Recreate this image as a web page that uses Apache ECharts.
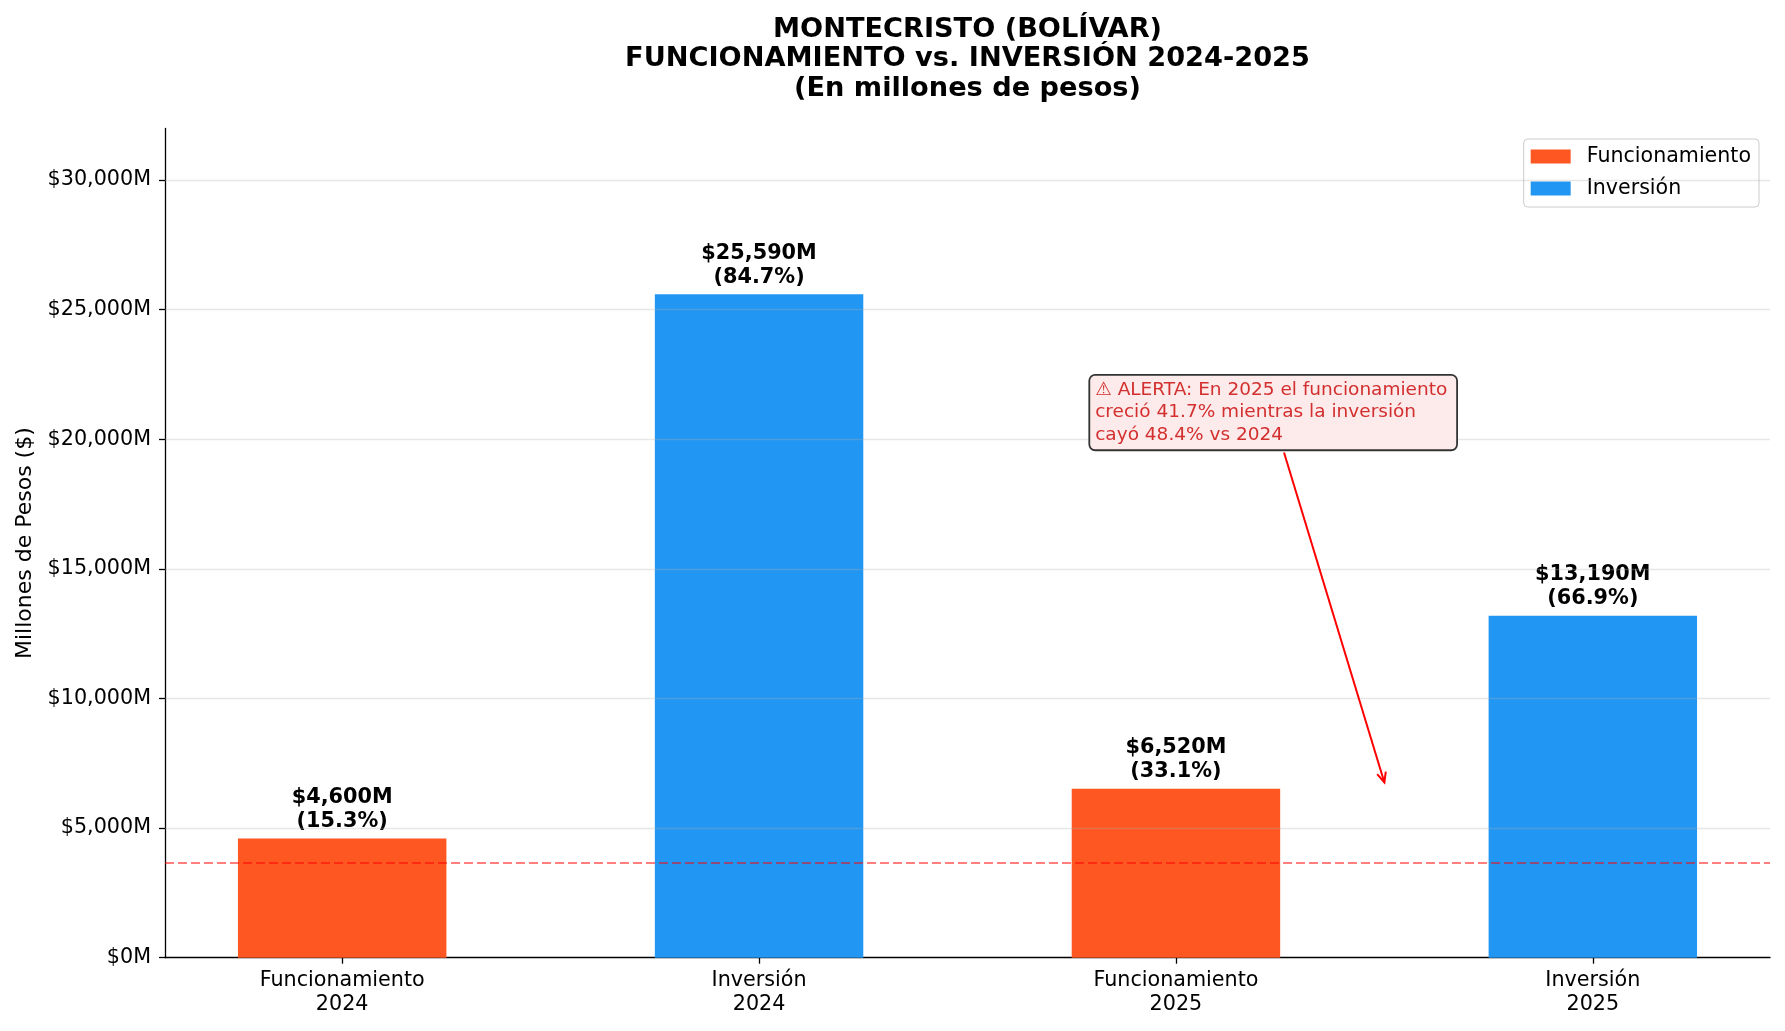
<!DOCTYPE html>
<html>
<head>
<meta charset="utf-8">
<script src="https://cdn.jsdelivr.net/npm/echarts@6/dist/echarts.min.js"></script>
<style>html,body{margin:0;padding:0;background:#fff}#c{width:1785px;height:1031px}</style>
</head>
<body>
<div id="c"></div>
<script>
// ---- data ----
const categories = ['Funcionamiento\n2024', 'Inversión\n2024', 'Funcionamiento\n2025', 'Inversión\n2025'];
const seriesNames = ['Funcionamiento', 'Inversión'];
const values = [4600, 25590, 6520, 13190];
const seriesOf = [0, 1, 0, 1];
const pctLabels = ['15.3%', '84.7%', '33.1%', '66.9%'];
const yTicks = [0, 5000, 10000, 15000, 20000, 25000, 30000];
const yMax = 31987.5;
const xRange = [-0.425, 3.425];
const barWidthUnits = 0.5;
const thresholdValue = 3680;
const alertText = '⚠ ALERTA: En 2025 el funcionamiento\ncreció 41.7% mientras la inversión\ncayó 48.4% vs 2024';
const alertBoxCorner = [1.79, 19660];   // lower-left corner of box (data units)
const arrowTarget = [2.5, 6760];
const titleText = 'MONTECRISTO (BOLÍVAR)\nFUNCIONAMIENTO vs. INVERSIÓN 2024-2025\n(En millones de pesos)';
const colors = ['#FF5722', '#2196F3'];

const FONT = 'DejaVu Sans';
const fmt = v => '$' + Number(v).toLocaleString('en-US') + 'M';

const L = 165, R = 1785 - 1770, T = 128.5, B = 1031 - 957.7;
const plotW = 1785 - L - R;
const unit = plotW / (xRange[1] - xRange[0]);
const gridBLeft = L + (0 - xRange[0]) * unit;
const gridBWidth = (categories.length - 1) * unit;

const chart = echarts.init(document.getElementById('c'), null, {renderer: 'canvas'});

const barSeries = seriesNames.map((name, s) => ({
  name, type: 'bar', xAxisIndex: 0, yAxisIndex: 0,
  barWidth: barWidthUnits * unit, barGap: '-100%', z: 3,
  itemStyle: {color: colors[s]},
  data: values.map((v, i) => seriesOf[i] === s ? [i, v] : null).filter(d => d),
  label: {
    show: true, position: 'top', distance: 5,
    fontFamily: FONT, fontWeight: 'bold', fontSize: 20.8, lineHeight: 24, color: '#000',
    formatter: p => fmt(p.value[1]) + '\n(' + pctLabels[p.value[0]] + ')'
  }
}));

chart.setOption({
  animation: false,
  backgroundColor: '#fff',
  title: {
    text: titleText, left: L + plotW / 2, top: 15, textAlign: 'center', padding: 0,
    textStyle: {fontFamily: FONT, fontWeight: 'bold', fontSize: 27.2, lineHeight: 29.5, color: '#000'}
  },
  legend: {
    data: seriesNames, orient: 'vertical', right: 26, top: 139,
    icon: 'rect', itemWidth: 40, itemHeight: 14, itemGap: 11,
    padding: [7, 8, 8, 7], borderColor: '#cccccc', borderWidth: 1, borderRadius: 4,
    backgroundColor: 'rgba(255,255,255,0.8)',
    textStyle: {fontFamily: FONT, fontSize: 20.6, lineHeight: 20, color: '#000', padding: [0, 0, 0, 11]}
  },
  grid: [
    {left: L, right: R, top: T, bottom: B},
    {left: gridBLeft, width: gridBWidth, top: T, bottom: B}
  ],
  xAxis: [
    {gridIndex: 0, type: 'value', min: xRange[0], max: xRange[1],
     axisLine: {show: true, onZero: false, lineStyle: {color: '#000', width: 1.3}},
     axisTick: {show: false}, axisLabel: {show: false}, splitLine: {show: false}},
    {gridIndex: 1, type: 'category', data: categories, boundaryGap: false,
     axisLine: {show: false},
     axisTick: {show: true, length: 6, lineStyle: {color: '#000', width: 1.3}},
     axisLabel: {fontFamily: FONT, fontSize: 20.7, lineHeight: 24, color: '#000', margin: 11},
     splitLine: {show: false}}
  ],
  yAxis: [
    {gridIndex: 0, type: 'value', min: 0, max: yMax, interval: 5000,
     name: 'Millones de Pesos ($)', nameLocation: 'middle', nameGap: 128,
     nameTextStyle: {fontFamily: FONT, fontSize: 22, color: '#000'},
     axisLine: {show: true, onZero: false, lineStyle: {color: '#000', width: 1.3}},
     axisTick: {show: true, length: 6, lineStyle: {color: '#000', width: 1.3}},
     axisLabel: {fontFamily: FONT, fontSize: 20.7, color: '#000', margin: 14, showMaxLabel: false,
       formatter: v => yTicks.includes(v) ? fmt(v) : ''},
     splitLine: {show: false}},
    {gridIndex: 1, type: 'value', min: 0, max: yMax, show: false}
  ],
  series: [
    ...barSeries,
    {type: 'line', xAxisIndex: 0, yAxisIndex: 0, data: [], z: 4, silent: true,
     markLine: {silent: true, symbol: 'none', label: {show: false}, z: 4,
       lineStyle: {color: 'rgba(176,176,176,0.3)', width: 1.3, type: 'solid'},
       data: yTicks.filter(v => v > 0).map(v => ({yAxis: v}))}},
    {type: 'line', xAxisIndex: 0, yAxisIndex: 0, data: [], z: 5, silent: true,
     markLine: {silent: true, symbol: 'none', label: {show: false}, z: 5,
       lineStyle: {color: 'rgba(255,0,0,0.5)', width: 1.8, type: [9, 4]},
       data: [{yAxis: thresholdValue}]}}
  ]
});

// annotation box + arrow, positioned from data coordinates
const corner = chart.convertToPixel({xAxisIndex: 0, yAxisIndex: 0}, alertBoxCorner);
const tgt = chart.convertToPixel({xAxisIndex: 0, yAxisIndex: 0}, arrowTarget);
const boxW = 366, boxH = 74;
const cx = corner[0] + boxW / 2, cy = corner[1] - boxH / 2;
const sy = corner[1] + 4.5;
const sx = cx + (tgt[0] - cx) * (sy - cy) / (tgt[1] - cy);
const ang = Math.atan2(tgt[1] - sy, tgt[0] - sx);
const hl = 10, hw = 4.5;
const bx = tgt[0] - hl * Math.cos(ang), by = tgt[1] - hl * Math.sin(ang);
const w1 = [bx + hw * Math.sin(ang), by - hw * Math.cos(ang)];
const w2 = [bx - hw * Math.sin(ang), by + hw * Math.cos(ang)];

chart.setOption({
  graphic: [
    {type: 'text', left: corner[0], top: corner[1] - boxH, z: 10,
     style: {text: alertText, font: '18.5px "DejaVu Sans"', fill: '#d32f2f', lineHeight: 22.5,
       backgroundColor: '#fdeaea', borderColor: '#333', borderWidth: 1.8, borderRadius: 5,
       padding: [3, 5, 3, 5], width: boxW - 10, overflow: 'none'}},
    {type: 'line', z: 10, shape: {x1: sx, y1: sy, x2: tgt[0], y2: tgt[1]},
     style: {stroke: '#ff0000', lineWidth: 2}},
    {type: 'polyline', z: 10, shape: {points: [w1, [tgt[0], tgt[1]], w2]},
     style: {stroke: '#ff0000', lineWidth: 2, fill: null}}
  ]
});
</script>
</body>
</html>
